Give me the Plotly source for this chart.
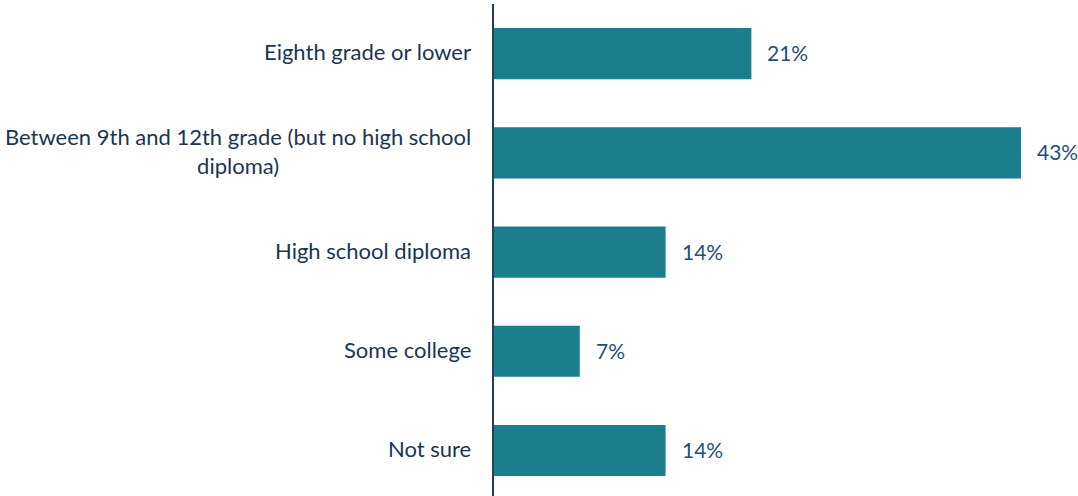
import plotly.graph_objects as go

# Highest level of schooling completed
categories = [
    "Eighth grade or lower",
    "Between 9th and 12th grade (but no high school<br>diploma)",
    "High school diploma",
    "Some college",
    "Not sure",
]
values = [21, 43, 14, 7, 14]
value_labels = ["21%", "43%", "14%", "7%", "14%"]

BAR_COLOR = "#1B7E8E"
CAT_COLOR = "#1C3550"
VAL_COLOR = "#1F4E79"
FONT = "Lato, 'Open Sans', sans-serif"

fig = go.Figure(
    go.Bar(
        x=values,
        y=categories,
        orientation="h",
        marker=dict(color=BAR_COLOR, line=dict(width=0)),
        width=0.515,
        hoverinfo="skip",
    )
)

annotations = []
for cat, val, lab in zip(categories, values, value_labels):
    # category label to the left of the axis
    annotations.append(dict(
        x=0, y=cat, xref="x", yref="y",
        text=cat, showarrow=False,
        xanchor="right", yanchor="middle", align="center",
        xshift=-21, yshift=2,
        font=dict(family=FONT, size=22, color=CAT_COLOR),
    ))
    # value label just past the end of the bar
    annotations.append(dict(
        x=val, y=cat, xref="x", yref="y",
        text=lab, showarrow=False,
        xanchor="left", yanchor="middle",
        xshift=14, yshift=1,
        font=dict(family=FONT, size=21, color=VAL_COLOR),
    ))

fig.update_layout(
    width=1078,
    height=496,
    margin=dict(l=494, r=0, t=4, b=0),
    paper_bgcolor="white",
    plot_bgcolor="white",
    showlegend=False,
    annotations=annotations,
    xaxis=dict(
        range=[0, 47.65],
        showgrid=False,
        zeroline=False,
        showticklabels=False,
        showline=False,
        fixedrange=True,
    ),
    yaxis=dict(
        type="category",
        categoryorder="array",
        categoryarray=categories,
        range=[4.458, -0.5],
        showgrid=False,
        zeroline=False,
        showticklabels=False,
        showline=True,
        linecolor="#243F55",
        linewidth=2,
        fixedrange=True,
    ),
)

fig.write_html("out.html")
